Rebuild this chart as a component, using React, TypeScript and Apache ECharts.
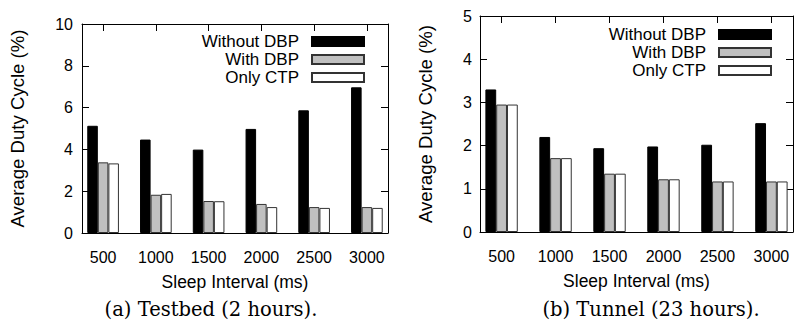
import React, { useEffect, useRef } from "react";
import * as echarts from "echarts";

const categories = ["500", "1000", "1500", "2000", "2500", "3000"];
const seriesNames = ["Without DBP", "With DBP", "Only CTP"];

const testbedWithout = [5.13, 4.47, 3.99, 4.98, 5.87, 6.97];
const testbedWith = [3.38, 1.83, 1.53, 1.39, 1.24, 1.24];
const testbedCtp = [3.33, 1.87, 1.52, 1.24, 1.2, 1.2];

const tunnelWithout = [3.3, 2.2, 1.94, 1.98, 2.02, 2.52];
const tunnelWith = [2.95, 1.71, 1.35, 1.22, 1.17, 1.17];
const tunnelCtp = [2.95, 1.71, 1.35, 1.22, 1.17, 1.17];

const testbedYMax = 10;
const testbedYInterval = 2;
const tunnelYMax = 5;
const tunnelYInterval = 1;

const captionA = "(a) Testbed (2 hours).";
const captionB = "(b) Tunnel (23 hours).";
const xName = "Sleep Interval (ms)";
const yName = "Average Duty Cycle (%)";

const SANS = "Liberation Sans";
const SERIF = "DejaVu Serif";

const fills = ["#000000", "#c0c0c0", "#ffffff"];
const tickIdx = categories.map((_, i) => i);

function xAxes(gridIndex: number) {
  const common = {
    type: "value" as const,
    gridIndex,
    min: -0.4,
    max: 5.4,
    splitLine: { show: false },
    axisLine: { show: true, onZero: false, lineStyle: { color: "#000", width: 1 } },
    axisTick: { show: true, inside: true, length: 7, customValues: tickIdx, lineStyle: { color: "#000" } },
  };
  return [
    {
      ...common,
      position: "bottom",
      name: xName,
      nameLocation: "middle",
      nameGap: 40,
      nameTextStyle: { fontFamily: SANS, fontSize: 17.5, color: "#000" },
      axisLabel: {
        customValues: tickIdx,
        formatter: (v: number) => categories[Math.round(v)] ?? "",
        fontFamily: SANS,
        fontSize: 16,
        color: "#000",
        margin: 16,
      },
    },
    { ...common, position: "top", axisLabel: { show: false } },
  ];
}

function yAxes(gridIndex: number, max: number, interval: number, nameGap: number, labelMargin: number) {
  const common = {
    type: "value" as const,
    gridIndex,
    min: 0,
    max,
    interval,
    splitLine: { show: false },
    axisLine: { show: true, onZero: false, lineStyle: { color: "#000", width: 1 } },
    axisTick: { show: true, inside: true, length: 7, lineStyle: { color: "#000" } },
  };
  return [
    {
      ...common,
      position: "left",
      name: yName,
      nameLocation: "middle",
      nameGap,
      nameRotate: 90,
      nameTextStyle: { fontFamily: SANS, fontSize: 18.6, color: "#000" },
      axisLabel: { fontFamily: SANS, fontSize: 16, color: "#000", margin: labelMargin },
    },
    { ...common, position: "right", axisLabel: { show: false } },
  ];
}

function barSeries(values: number[][], axisIndex: number) {
  return values.map((vals, k) => ({
    type: "bar",
    name: seriesNames[k],
    xAxisIndex: axisIndex,
    yAxisIndex: axisIndex,
    barWidth: "20%",
    barGap: "0%",
    data: vals.map((v, i) => [i, v]),
    itemStyle: { color: fills[k], borderColor: k === 0 ? "#000" : "#333", borderWidth: 1 },
    emphasis: { disabled: true },
  }));
}

function legend(right: number, top: number) {
  return {
    orient: "vertical",
    align: "right",
    right,
    top,
    padding: 0,
    itemGap: 1,
    itemWidth: 52,
    itemHeight: 9,
    selectedMode: false,
    icon: "rect",
    data: seriesNames,
    formatter: "{t|{name}}",
    textStyle: {
      fontFamily: SANS,
      fontSize: 17,
      color: "#000",
      rich: { t: { fontFamily: SANS, fontSize: 17, lineHeight: 17, color: "#000", padding: [0, 8, 0, 0] } },
    },
  };
}

export default function App() {
  const ref = useRef<HTMLDivElement>(null);
  useEffect(() => {
    if (!ref.current) return;
    const chart = echarts.init(ref.current, null, { renderer: "svg" });
    chart.setOption({
      animation: false,
      backgroundColor: "#fff",
      grid: [
        { left: 82, top: 24, width: 306, height: 209 },
        { left: 480, top: 16, width: 313, height: 216 },
      ],
      xAxis: [...xAxes(0), ...xAxes(1)],
      yAxis: [
        ...yAxes(0, testbedYMax, testbedYInterval, 55, 9),
        ...yAxes(1, tunnelYMax, tunnelYInterval, 45, 8),
      ],
      legend: [legend(431, 33), legend(24, 26)],
      series: [
        ...barSeries([testbedWithout, testbedWith, testbedCtp], 0),
        ...barSeries([tunnelWithout, tunnelWith, tunnelCtp], 2),
      ],
      graphic: [
        {
          type: "text",
          x: 211,
          y: 309,
          style: { text: captionA, fontFamily: SERIF, fontSize: 19.5, fill: "#000", align: "center", verticalAlign: "middle" },
        },
        {
          type: "text",
          x: 651,
          y: 309,
          style: { text: captionB, fontFamily: SERIF, fontSize: 19.5, fill: "#000", align: "center", verticalAlign: "middle" },
        },
      ],
    });
    return () => chart.dispose();
  }, []);
  return (
    <div
      ref={ref}
      style={{ position: "fixed", left: 0, top: 0, width: 796, height: 328, background: "#fff" }}
    />
  );
}
